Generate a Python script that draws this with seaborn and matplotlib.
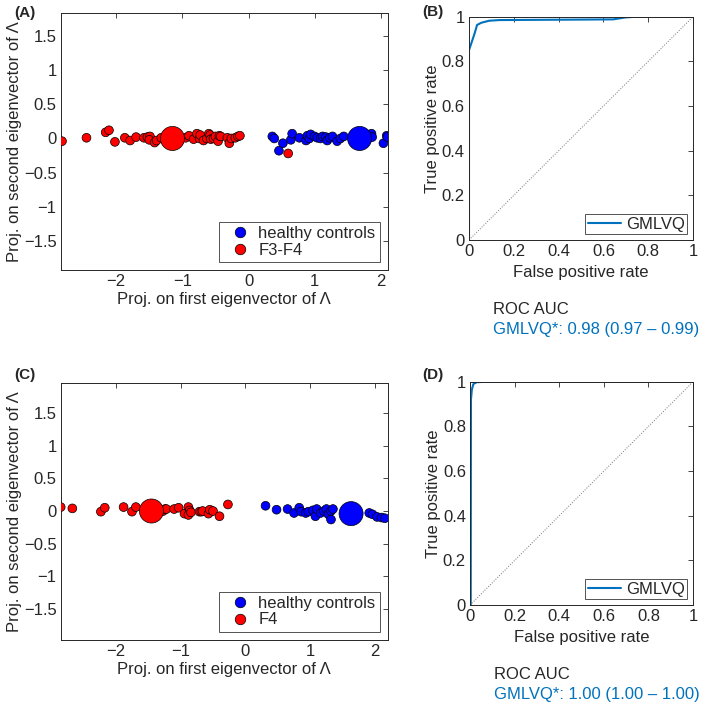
import numpy as np
import pandas as pd
import matplotlib
matplotlib.use("Agg")
import matplotlib.pyplot as plt
import seaborn as sns

# ---- data ----
# panel A: projections, F3-F4 vs healthy controls
a_red_x = [-2.82, -2.45, -2.16, -2.11, -2.02, -1.87, -1.79, -1.70, -1.58, -1.53, -1.49, -1.50,
           -1.42, -1.39, -1.32, -1.25, -1.10, -1.05, -0.95, -0.90, -0.83, -0.78, -0.74, -0.73,
           -0.68, -0.63, -0.60, -0.58, -0.57, -0.53, -0.50, -0.46, -0.44, -0.42, -0.32, -0.29,
           -0.26, -0.20, -0.16, -0.13, 0.60]
a_red_y = [-0.04, 0.01, 0.09, 0.12, -0.05, 0.01, -0.03, 0.02, 0.01, 0.02, 0.03, -0.02,
           -0.06, -0.03, 0.01, -0.02, 0.03, -0.04, 0.01, 0.04, -0.01, 0.07, 0.00, 0.05,
           -0.03, 0.00, 0.07, 0.05, -0.01, 0.00, 0.03, -0.04, 0.04, 0.03, 0.01, -0.07,
           0.00, 0.01, 0.03, 0.04, -0.22]
a_blue_x = [0.36, 0.39, 0.46, 0.52, 0.64, 0.66, 0.77, 0.87, 0.89, 0.92, 0.94, 1.00, 1.04, 1.09,
            1.12, 1.17, 1.19, 1.23, 1.27, 1.34, 1.39, 1.44, 1.75, 1.80, 1.86, 1.87, 2.04, 2.09, 2.10]
a_blue_y = [0.03, 0.00, -0.18, -0.07, -0.02, 0.07, 0.01, -0.03, 0.04, 0.00, 0.06, 0.03, 0.01, 0.00,
            0.03, 0.02, -0.03, 0.01, 0.03, -0.04, 0.00, 0.03, 0.02, -0.01, 0.07, 0.02, -0.07, 0.04, 0.02]
a_proto_x = [1.68, -1.15]
a_proto_y = [0.00, 0.00]

# panel C: projections, F4 vs healthy controls
c_red_x = [-2.85, -2.67, -2.23, -2.17, -1.88, -1.75, -1.69, -1.27, -1.24, -1.22, -1.10, -1.03,
           -0.94, -0.88, -0.86, -0.88, -0.84, -0.71, -0.68, -0.66, -0.57, -0.55, -0.50, -0.40, -0.27]
c_red_y = [0.06, 0.04, -0.01, 0.05, 0.06, -0.01, 0.06, 0.00, 0.03, 0.03, 0.03, 0.05,
           -0.04, 0.06, 0.01, -0.06, -0.02, -0.01, -0.01, 0.00, -0.04, 0.02, 0.00, -0.08, 0.10]
c_blue_x = [0.31, 0.48, 0.65, 0.75, 0.83, 0.86, 0.93, 0.97, 1.04, 1.08, 1.10, 1.16, 1.21, 1.25,
            1.28, 1.32, 1.32, 1.35, 1.91, 1.96, 2.03, 2.10, 2.15]
c_blue_y = [0.08, 0.02, 0.03, -0.03, 0.05, -0.01, -0.03, -0.01, 0.01, -0.08, 0.03, -0.03, 0.00, 0.03,
            -0.05, 0.00, -0.13, 0.03, -0.03, -0.05, -0.09, -0.10, -0.11]
c_proto_x = [1.63, -1.45]
c_proto_y = [-0.04, 0.00]

# ROC curves
b_fpr = [0.0, 0.0, 0.01, 0.025, 0.036, 0.055, 0.09, 0.137, 0.643, 0.70, 0.75, 1.0]
b_tpr = [0.0, 0.85, 0.88, 0.925, 0.963, 0.973, 0.982, 0.985, 0.988, 0.997, 1.0, 1.0]
d_fpr = [0.0, 0.003, 0.004, 0.008, 0.015, 0.03, 0.07, 1.0]
d_tpr = [0.0, 0.0, 0.92, 0.965, 0.99, 0.998, 1.0, 1.0]
chance = [0, 1]

b_auc_text = "GMLVQ*: 0.98 (0.97 \u2013 0.99)"
d_auc_text = "GMLVQ*: 1.00 (1.00 \u2013 1.00)"

scatter_xticks = [-2, -1, 0, 1, 2]
scatter_yticks = [1.5, 1, 0.5, 0, -0.5, -1, -1.5]
roc_ticks = [0, 0.2, 0.4, 0.6, 0.8, 1]

# ---- style ----
sns.set_style("white")
plt.rcParams['font.family'] = ['Liberation Sans', 'DejaVu Sans']
plt.rcParams['font.size'] = 12
plt.rcParams['text.color'] = '#262626'
plt.rcParams['axes.labelcolor'] = '#262626'
plt.rcParams['xtick.color'] = '#262626'
plt.rcParams['ytick.color'] = '#262626'

BLUE = '#0000FF'
RED = '#FF0000'
LINE = '#0072BD'
FS = 12


def fmt(v):
    s = f"{v:g}"
    return s.replace('-', '\u2212')


def style_axes(ax, xticks, yticks):
    ax.set_xticks(xticks)
    ax.set_yticks(yticks)
    ax.set_xticklabels([fmt(v) for v in xticks])
    ax.set_yticklabels([fmt(v) for v in yticks])
    ax.tick_params(direction='in', top=True, right=True, length=3.5, width=0.6,
                   labelsize=FS, pad=3)
    for sp in ax.spines.values():
        sp.set_color('#262626')
        sp.set_linewidth(0.7)


def scatter_panel(ax, red_x, red_y, blue_x, blue_y, proto_x, proto_y, red_name, xlim, ylim):
    df = pd.DataFrame({
        'x': blue_x + red_x,
        'y': blue_y + red_y,
        'group': ['healthy controls'] * len(blue_x) + [red_name] * len(red_x),
    })
    protos = pd.DataFrame({'x': proto_x, 'y': proto_y,
                           'group': ['healthy controls', red_name]})
    sns.scatterplot(data=df, x='x', y='y', hue='group',
                    hue_order=['healthy controls', red_name], palette=[BLUE, RED],
                    s=40, edgecolor='black', linewidth=0.5, ax=ax, zorder=3)
    sns.scatterplot(data=protos, x='x', y='y', hue='group',
                    hue_order=['healthy controls', red_name], palette=[BLUE, RED],
                    s=300, edgecolor='black', linewidth=0.5, ax=ax, legend=False, zorder=4)
    ax.set_xlim(*xlim)
    ax.set_ylim(*ylim)
    style_axes(ax, scatter_xticks, scatter_yticks)
    ax.set_xlabel('Proj. on first eigenvector of \u039b', fontsize=FS, labelpad=2)
    ax.set_ylabel('Proj. on second eigenvector of \u039b', fontsize=FS, labelpad=1)
    leg = ax.legend(loc='lower right', frameon=True, fancybox=False, fontsize=FS,
                    handletextpad=0.1, borderpad=0.25, labelspacing=0.1,
                    borderaxespad=0.5, markerscale=1.2)
    leg.get_frame().set_edgecolor('#262626')
    leg.get_frame().set_linewidth(0.7)


def roc_panel(ax, fpr, tpr, auc_text):
    ax.plot(chance, chance, linestyle=':', color='0.45', linewidth=0.7)
    sns.lineplot(x=fpr, y=tpr, estimator=None, sort=False, color=LINE,
                 linewidth=1.5, label='GMLVQ', ax=ax)
    ax.set_xlim(0, 1)
    ax.set_ylim(0, 1)
    style_axes(ax, roc_ticks, roc_ticks)
    ax.set_xlabel('False positive rate', fontsize=FS, labelpad=4)
    ax.set_ylabel('True positive rate', fontsize=FS, labelpad=1)
    leg = ax.legend(loc='lower right', frameon=True, fancybox=False, fontsize=FS,
                    handlelength=2.0, handletextpad=0.3, borderpad=0.15,
                    borderaxespad=0.35)
    leg.get_frame().set_edgecolor('#262626')
    leg.get_frame().set_linewidth(0.7)
    ax.text(0.107, -0.31, 'ROC AUC', transform=ax.transAxes, fontsize=FS,
            ha='left', va='center')
    ax.text(0.107, -0.40, auc_text, transform=ax.transAxes, fontsize=FS,
            ha='left', va='center', color=LINE)


fig = plt.figure(figsize=(7.09, 7.05), dpi=100)
ax_a = fig.add_axes([0.0856, 0.617, 0.4617, 0.3645])
ax_b = fig.add_axes([0.6615, 0.6596, 0.316, 0.3167])
ax_c = fig.add_axes([0.0856, 0.0922, 0.4617, 0.365])
ax_d = fig.add_axes([0.663, 0.1418, 0.3145, 0.3167])

scatter_panel(ax_a, a_red_x, a_red_y, a_blue_x, a_blue_y, a_proto_x, a_proto_y,
              'F3-F4', (-2.84, 2.11), (-1.93, 1.84))
scatter_panel(ax_c, c_red_x, c_red_y, c_blue_x, c_blue_y, c_proto_x, c_proto_y,
              'F4', (-2.85, 2.2), (-1.97, 1.96))
roc_panel(ax_b, b_fpr, b_tpr, b_auc_text)
roc_panel(ax_d, d_fpr, d_tpr, d_auc_text)

for lab, x, y in [('(A)', 14, 13), ('(B)', 422, 12), ('(C)', 14, 375), ('(D)', 422, 375)]:
    fig.text(x / 709, 1 - y / 705, lab, fontsize=11, fontweight='bold',
             ha='left', va='center')

fig.savefig('out.png', dpi=100)
